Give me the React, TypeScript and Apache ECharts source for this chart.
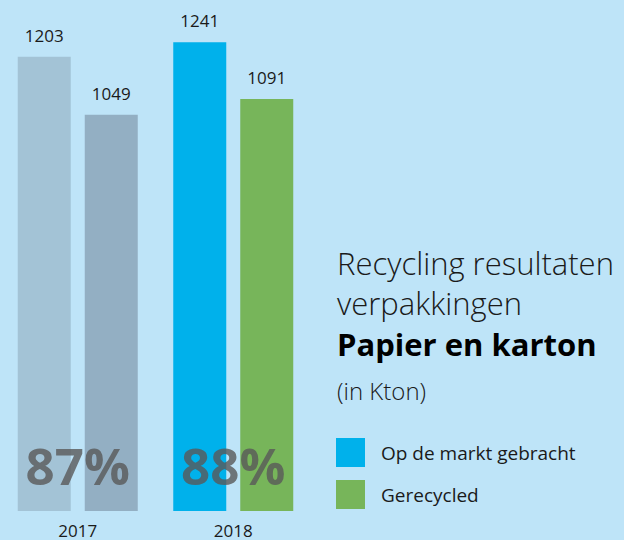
import React, { useEffect, useRef } from "react";
import * as echarts from "echarts";

const years = ["2017", "2018"];
const marktValues = [1203, 1241];
const recycledValues = [1049, 1091];
const percents = [87, 88];
const seriesNames = ["Op de markt gebracht", "Gerecycled"];
const titleLines = ["Recycling resultaten", "verpakkingen"];
const subtitle = "Papier en karton";
const unitNote = "(in Kton)";

const FONT = "'Open Sans', 'Noto Sans', sans-serif";
const BG = "#BEE4F8";
const MARKT_COLORS = ["#A3C3D6", "#00B1EB"];
const RECYCLED_COLORS = ["#93AFC3", "#77B55A"];

export default function App() {
  const ref = useRef<HTMLDivElement>(null);
  useEffect(() => {
    if (!ref.current) return;
    const chart = echarts.init(ref.current, null, { renderer: "svg" });
    const valueLabel = {
      show: true,
      position: "top" as const,
      distance: 13,
      color: "#1a1a1a",
      fontFamily: FONT,
      fontSize: 17,
    };
    chart.setOption({
      animation: false,
      backgroundColor: BG,
      textStyle: { fontFamily: FONT },
      grid: { left: 0, width: 311, top: 20, bottom: 29, containLabel: false },
      xAxis: {
        type: "category",
        data: years,
        axisLine: { show: false },
        axisTick: { show: false },
        axisLabel: { color: "#1a1a1a", fontSize: 17, lineHeight: 14, margin: 12, fontFamily: FONT },
      },
      yAxis: { type: "value", min: 0, max: 1300, show: false, splitLine: { show: false } },
      legend: {
        data: seriesNames,
        orient: "vertical",
        left: 331,
        top: 433,
        itemWidth: 29,
        itemHeight: 29,
        itemGap: 13,
        icon: "rect",
        textStyle: { fontSize: 19, color: "#1a1a1a", fontFamily: FONT, padding: [0, 0, 0, 11] },
        selectedMode: false,
      },
      graphic: [
        {
          type: "text",
          left: 337,
          top: 243,
          style: {
            text: titleLines.join("\n"),
            font: `300 31px ${FONT}`,
            lineHeight: 40,
            fill: "#1a1a1a",
          },
        },
        {
          type: "text",
          left: 337,
          top: 328,
          style: { text: subtitle, font: `bold 31px ${FONT}`, fill: "#000" },
        },
        {
          type: "text",
          left: 337,
          top: 378,
          style: { text: unitNote, font: `300 24px ${FONT}`, fill: "#1a1a1a" },
        },
      ],
      series: [
        {
          name: seriesNames[0],
          type: "bar",
          barWidth: 53,
          barGap: "26.4%",
          color: MARKT_COLORS[1],
          data: marktValues.map((v, i) => ({ value: v, itemStyle: { color: MARKT_COLORS[i] } })),
          label: valueLabel,
        },
        {
          name: seriesNames[1],
          type: "bar",
          barWidth: 53,
          color: RECYCLED_COLORS[1],
          data: recycledValues.map((v, i) => ({ value: v, itemStyle: { color: RECYCLED_COLORS[i] } })),
          label: valueLabel,
        },
        {
          name: "percent",
          type: "scatter",
          symbolSize: 0,
          z: 10,
          data: percents.map(() => 0),
          label: {
            show: true,
            position: "top",
            distance: 21,
            formatter: (p: any) => `${percents[p.dataIndex]}%`,
            color: "#595959",
            fontFamily: FONT,
            fontWeight: "bold",
            fontSize: 51,
          },
          silent: true,
        },
      ],
    });
    return () => chart.dispose();
  }, []);
  return (
    <div
      ref={ref}
      style={{ position: "fixed", left: 0, top: 0, width: 624, height: 540 }}
    />
  );
}
